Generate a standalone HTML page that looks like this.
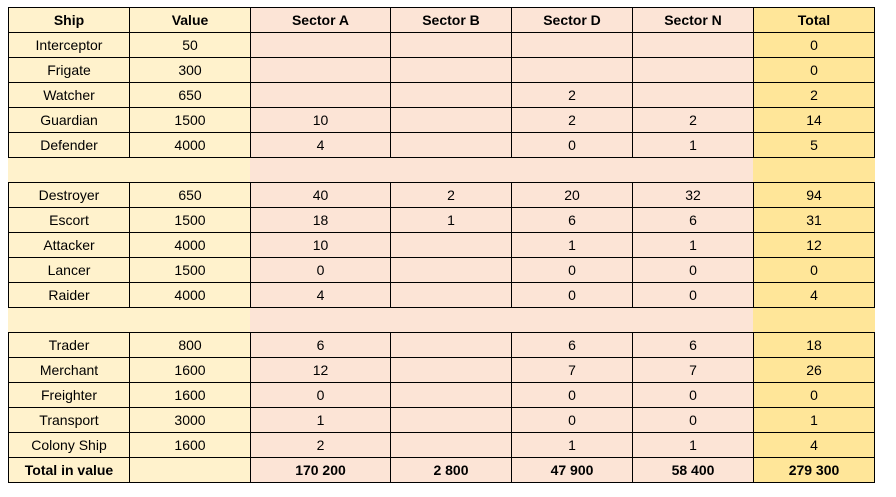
<!DOCTYPE html>
<html><head><meta charset="utf-8"><style>
body{margin:0;width:896px;height:497px;background:#fff;font-family:"Liberation Sans",Arial,sans-serif;position:relative;overflow:hidden}
.c{position:absolute;box-sizing:border-box;font-size:14px;color:#000;display:flex;align-items:center;justify-content:center}
.h{font-weight:bold}
</style></head><body>
<div id="tbl"></div>
<script>
const cols=[8,129,250,390,511,632,753,874];
const headers=["Ship","Value","Sector A","Sector B","Sector D","Sector N","Total"];
const ships=["Interceptor","Frigate","Watcher","Guardian","Defender",null,"Destroyer","Escort","Attacker","Lancer","Raider",null,"Trader","Merchant","Freighter","Transport","Colony Ship"];
const values=["50","300","650","1500","4000",null,"650","1500","4000","1500","4000",null,"800","1600","1600","3000","1600"];
const sectorA=["","","","10","4",null,"40","18","10","0","4",null,"6","12","0","1","2"];
const sectorB=["","","","","",null,"2","1","","","",null,"","","","",""];
const sectorD=["","","2","2","0",null,"20","6","1","0","0",null,"6","7","0","0","1"];
const sectorN=["","","","2","1",null,"32","6","1","0","0",null,"6","7","0","0","1"];
const totals=["0","0","2","14","5",null,"94","31","12","0","4",null,"18","26","0","1","4"];
const totalRow=["Total in value","","170 200","2 800","47 900","58 400","279 300"];
const colBg=["#FFF2CC","#FFF2CC","#FCE4D6","#FCE4D6","#FCE4D6","#FCE4D6","#FFE699"];
const top0=7,rh=25;
const T=document.getElementById('tbl');
function cell(r,c,text,bold,spacer){
  const d=document.createElement('div');
  d.className='c'+(bold?' h':'');
  const x=cols[c],y=top0+r*rh;
  d.style.left=x+'px';d.style.top=y+'px';
  d.style.width=(cols[c+1]-x+1)+'px';d.style.height=(rh+1)+'px';
  d.style.background=colBg[c];
  if(!spacer){d.style.border='1px solid #000';}
  else{d.style.borderBottom='1px solid #000';d.style.borderTop='1px solid #000';}
  d.textContent=text;
  
  
  T.appendChild(d);
}
headers.forEach((h,c)=>cell(0,c,h,true,false));
ships.forEach((s,i)=>{
  const r=i+1;
  if(s===null){for(let c=0;c<7;c++)cell(r,c,'',false,true);return;}
  [s,values[i],sectorA[i],sectorB[i],sectorD[i],sectorN[i],totals[i]].forEach((v,c)=>cell(r,c,v,false,false));
});
totalRow.forEach((v,c)=>cell(ships.length+1,c,v,true,false));
</script>
</body></html>
